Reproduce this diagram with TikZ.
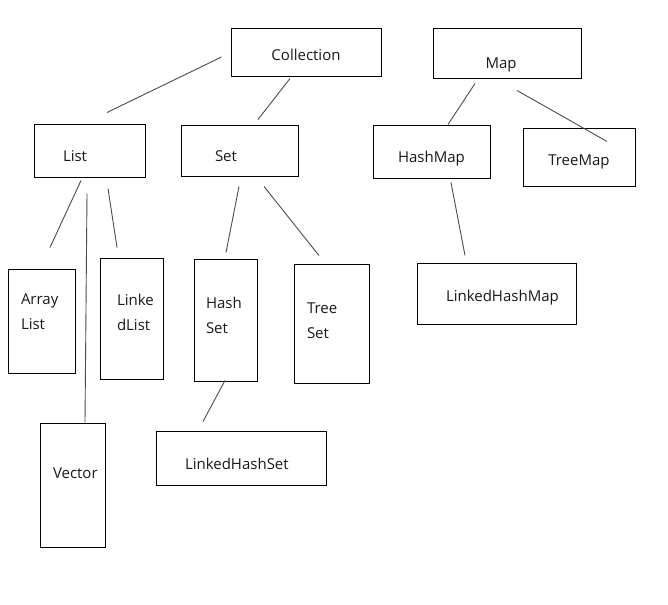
\documentclass[tikz,border=0pt]{standalone}
\usepackage{fontspec}
\setmainfont{Open Sans}

\begin{document}
\begin{tikzpicture}[
  x=1pt, y=-1pt,
  box/.style={draw=black, line width=1pt, inner sep=2pt, text=black!90,
              font=\fontsize{15}{25}\selectfont},
  sink/.style={text height=#1, text depth=0pt},
  lift/.style={text height=0pt, text depth=#1},
  ln/.style={draw=black!70, line width=0.9pt}
]
  \useasboundingbox[fill=white] (0,0) rectangle (668,604);

  \node[box, minimum width=150pt, minimum height=48pt, sink=15pt] (coll) at (306,53) {Collection};
  \node[box, minimum width=148pt, minimum height=50pt, text width=43pt, align=left, sink=30pt] (map) at (507,54) {Map};

  \node[box, minimum width=111pt, minimum height=52pt, text width=53pt, align=left, sink=21pt] (list) at (89.5,151) {List};
  \node[box, minimum width=117pt, minimum height=50pt, text width=49pt, align=left, sink=21pt] (set) at (239.5,151) {Set};
  \node[box, minimum width=117pt, minimum height=52pt, sink=21pt] (hmap) at (431.5,152) {HashMap};
  \node[box, minimum width=112pt, minimum height=57pt, sink=16pt] (tmap) at (579,157.5) {TreeMap};

  \node[box, minimum width=67pt, minimum height=104pt, text width=41pt, align=left, lift=33pt] (alist) at (41.5,321) {Array\\List};
  \node[box, minimum width=63pt, minimum height=121pt, text width=29pt, align=left, lift=26pt] (llist) at (131.5,318.5) {Linke\\dList};
  \node[box, minimum width=65pt, minimum height=124pt, text width=39pt, align=left, lift=13pt] (vec) at (72.5,485) {Vector};
  \node[box, minimum width=63pt, minimum height=122pt, text width=39pt, align=left, lift=23pt] (hset) at (225.5,320) {Hash\\Set};
  \node[box, minimum width=75pt, minimum height=119pt, text width=49pt, align=left, lift=20pt] (tset) at (331.5,323.5) {Tree\\Set};
  \node[box, minimum width=159pt, minimum height=61pt, text width=101pt, align=left, sink=16pt] (lhmap) at (496.5,293.5) {LinkedHashMap};
  \node[box, minimum width=170pt, minimum height=54pt, text width=112pt, align=left, sink=23pt] (lhset) at (241,458) {LinkedHashSet};

  \draw[ln] ([shift={(-9,4)}]coll.west) -- ([shift={(17.5,-12)}]list.north);
  \draw[ln] ([shift={(-16,1)}]coll.south) -- ([shift={(18.5,-6)}]set.north);
  \draw[ln] ([shift={(-32,4)}]map.south) -- ([shift={(16.5,-1)}]hmap.north);
  \draw[ln] ([shift={(10,11)}]map.south) -- ([shift={(28,13)}]tmap.north);
  \draw[ln] ([shift={(-8.5,3)}]list.south) -- ([shift={(8.5,-21)}]alist.north);
  \draw[ln] ([shift={(-2.5,16)}]list.south) -- ([shift={(12.5,0)}]vec.north);
  \draw[ln] ([shift={(18.5,11)}]list.south) -- ([shift={(-14.5,-10)}]llist.north);
  \draw[ln] ([shift={(-0.5,10)}]set.south) -- ([shift={(0.5,-6)}]hset.north);
  \draw[ln] ([shift={(24.5,10)}]set.south) -- ([shift={(-12.5,-8)}]tset.north);
  \draw[ln] ([shift={(19.5,4)}]hmap.south) -- ([shift={(-31.5,-7)}]lhmap.north);
  \draw[ln] ([shift={(-0.5,-1)}]hset.south) -- ([shift={(-38,-9)}]lhset.north);
\end{tikzpicture}
\end{document}
